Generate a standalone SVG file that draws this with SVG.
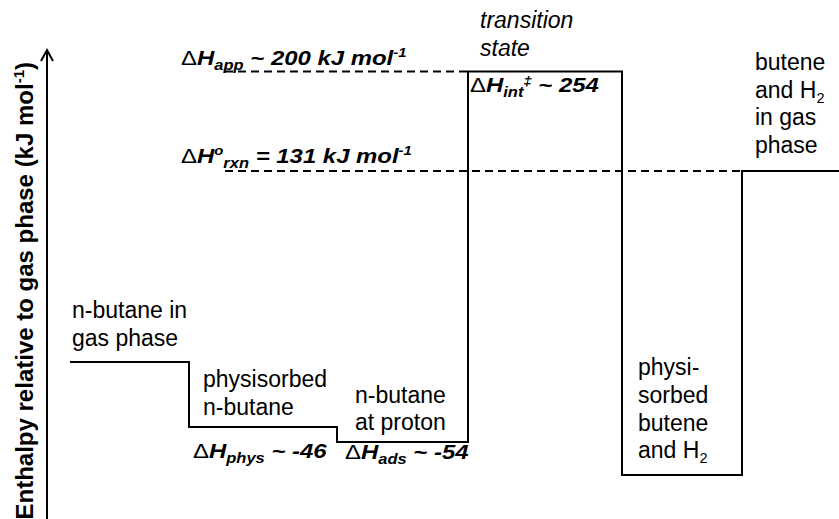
<svg xmlns="http://www.w3.org/2000/svg" width="839" height="519" viewBox="0 0 839 519">
<style>
text{font-family:"Liberation Sans",Arial,sans-serif;fill:#000}
.r{font-size:23px}
.ri{font-size:23px;font-style:italic}
.b{font-size:21px;font-weight:bold;font-style:italic}
.d{font-weight:normal;font-style:normal}
.sub{font-size:14.5px}
.sup{font-size:13px}
.solid{fill:none;stroke:#000;stroke-width:2}
.dash{fill:none;stroke:#000;stroke-width:2;stroke-dasharray:8 5}
</style>
<g id="axis">
<line x1="47" y1="519" x2="47" y2="50" stroke="#000" stroke-width="2"/>
<path d="M41,61 L47,50 L53,61" fill="none" stroke="#000" stroke-width="2"/>
<text transform="translate(33,62) rotate(-90)" text-anchor="end" font-size="24" font-weight="bold">Enthalpy relative to gas phase (kJ mol<tspan font-size="15" dy="-9">-1</tspan><tspan dy="9">)</tspan></text>
</g>
<g id="connectors">
<path class="solid" d="M70,362 H189 V427 H337 V442 H468 V71.5 H622 V475 H742 V171 H839"/>
<path class="dash" d="M225,71.5 H468"/>
<path class="dash" d="M225,171 H742"/>
</g>
<g id="gas-reactant">
<text class="r" x="72" y="318">n-butane in</text>
<text class="r" x="72" y="346">gas phase</text>
</g>
<g id="physisorbed">
<text class="r" x="203" y="387">physisorbed</text>
<text class="r" x="203" y="415">n-butane</text>
<text class="b" transform="translate(193,458) scale(1.14,1)"><tspan class="d">Δ</tspan>H<tspan class="sub" dy="5">phys</tspan><tspan dy="-5"> ~ -46</tspan></text>
</g>
<g id="adsorbed">
<text class="r" x="355" y="403">n-butane</text>
<text class="r" x="355" y="430">at proton</text>
<text class="b" transform="translate(345,459) scale(1.14,1)"><tspan class="d">Δ</tspan>H<tspan class="sub" dy="5">ads</tspan><tspan dy="-5"> ~ -54</tspan></text>
</g>
<g id="transition-state">
<text class="ri" x="480" y="28">transition</text>
<text class="ri" x="480" y="56">state</text>
<text class="b" transform="translate(470,92) scale(1.14,1)"><tspan class="d">Δ</tspan>H<tspan class="sub" dy="5">int</tspan><tspan class="sup" dy="-12">‡</tspan><tspan dy="7"> ~ 254</tspan></text>
</g>
<g id="apparent">
<text class="b" transform="translate(181,65) scale(1.14,1)"><tspan class="d">Δ</tspan>H<tspan class="sub" dy="5">app</tspan><tspan dy="-5"> ~ 200 kJ mol</tspan><tspan class="sup" dy="-8">-1</tspan></text>
</g>
<g id="reaction">
<text class="b" transform="translate(181,163) scale(1.14,1)"><tspan class="d">Δ</tspan>H<tspan class="sup" dy="-8">o</tspan><tspan class="sub" dy="13">rxn</tspan><tspan dy="-5"> = 131 kJ mol</tspan><tspan class="sup" dy="-8">-1</tspan></text>
</g>
<g id="physisorbed-products">
<text class="r" x="638" y="375">physi-</text>
<text class="r" x="638" y="403">sorbed</text>
<text class="r" x="638" y="431">butene</text>
<text class="r" x="638" y="458">and H<tspan class="sub" dy="5">2</tspan></text>
</g>
<g id="gas-products">
<text class="r" x="755" y="70">butene</text>
<text class="r" x="755" y="98">and H<tspan class="sub" dy="5">2</tspan></text>
<text class="r" x="755" y="125">in gas</text>
<text class="r" x="755" y="153">phase</text>
</g>
</svg>
